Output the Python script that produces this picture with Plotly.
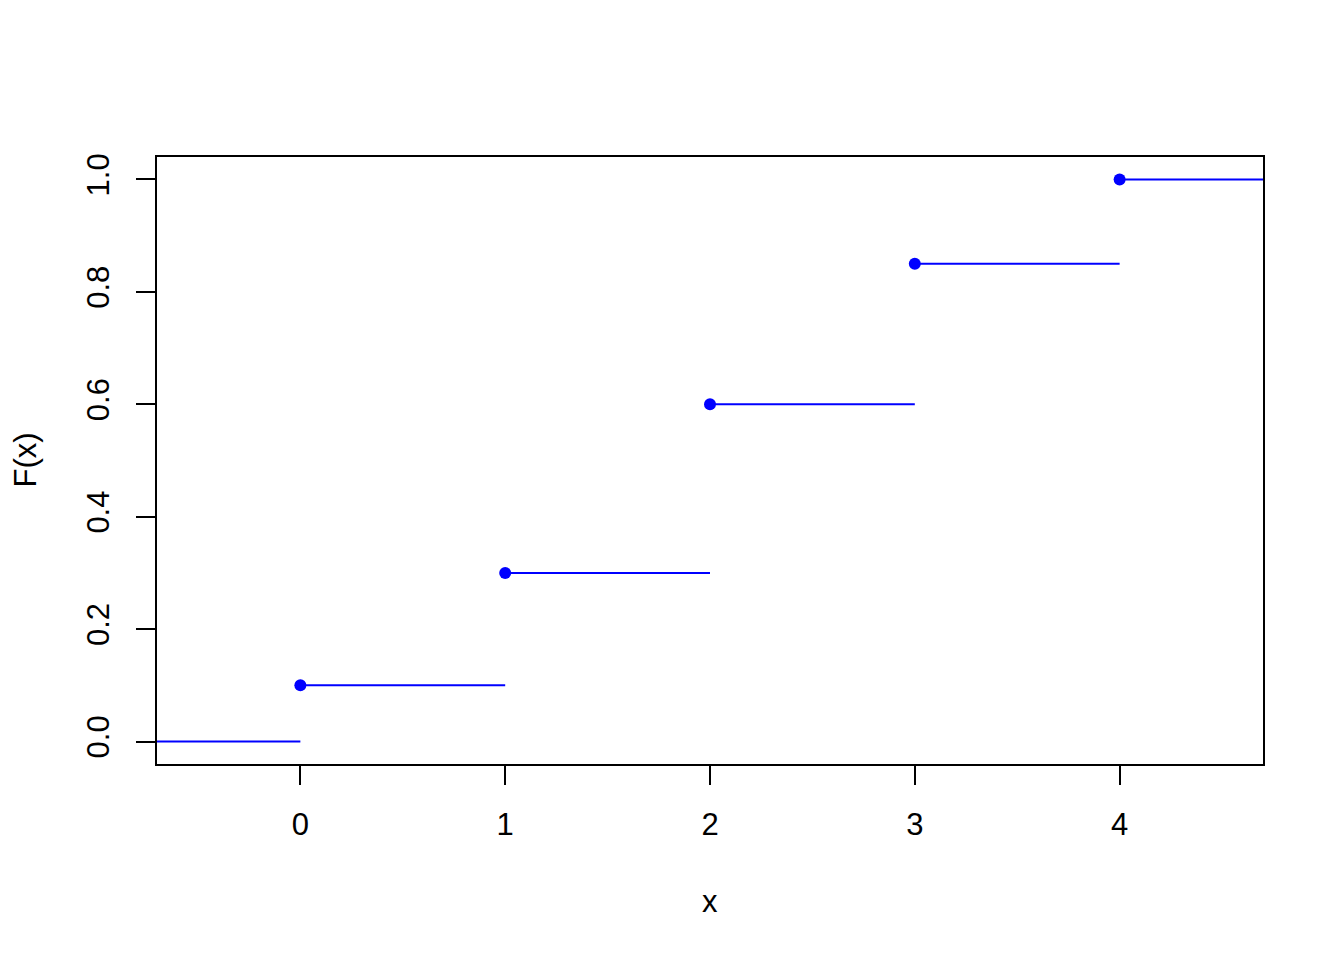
import plotly.graph_objects as go

# Data
x_vals = [0, 1, 2, 3, 4]
F_vals = [0.1, 0.3, 0.6, 0.85, 1.0]
F_before = 0.0
x_lo, x_hi = -1, 5  # segments extend beyond the visible range (clipped)

x_ticks = [0, 1, 2, 3, 4]
y_ticks = [0.0, 0.2, 0.4, 0.6, 0.8, 1.0]

# Step segments
seg_x, seg_y = [], []
starts = [x_lo] + x_vals
ends = x_vals + [x_hi]
levels = [F_before] + F_vals
for s, e, lv in zip(starts, ends, levels):
    seg_x += [s, e, None]
    seg_y += [lv, lv, None]

BLUE = "#0000FF"
FONT = "Liberation Sans, Arial, Helvetica, sans-serif"

fig = go.Figure()
fig.add_trace(go.Scatter(x=seg_x, y=seg_y, mode="lines",
                         line=dict(color=BLUE, width=2), hoverinfo="skip",
                         showlegend=False))
fig.add_trace(go.Scatter(x=x_vals, y=F_vals, mode="markers",
                         marker=dict(color=BLUE, size=12), showlegend=False,
                         cliponaxis=False))

axis_common = dict(showgrid=False, zeroline=False, showline=True, linecolor="black",
                   linewidth=2, mirror=True, ticks="outside", ticklen=19, tickwidth=2,
                   tickcolor="black", tickfont=dict(family=FONT, size=31, color="black"))

fig.update_xaxes(range=[-0.7, 4.7], tickvals=x_ticks, ticktext=[str(v) for v in x_ticks],
                 ticklabelstandoff=13, **axis_common)
fig.update_yaxes(range=[-0.04, 1.04], tickvals=y_ticks,
                 ticktext=[f"{v:.1f}" for v in y_ticks], tickangle=-90,
                 ticklabelstandoff=15, **axis_common)

fig.add_annotation(text="x", xref="paper", yref="paper", x=0.5, y=0,
                   yanchor="middle", xanchor="center", yshift=-137, showarrow=False,
                   font=dict(family=FONT, size=31, color="black"))
fig.add_annotation(text="F(x)", xref="paper", yref="paper", x=0, y=0.5,
                   xanchor="center", yanchor="middle", xshift=-132, textangle=-90,
                   showarrow=False, font=dict(family=FONT, size=31, color="black"))

fig.update_layout(width=1344, height=960, margin=dict(l=157, r=81, t=157, b=196),
                  plot_bgcolor="white", paper_bgcolor="white",
                  font=dict(family=FONT, size=31, color="black"))

fig.write_html("out.html")
